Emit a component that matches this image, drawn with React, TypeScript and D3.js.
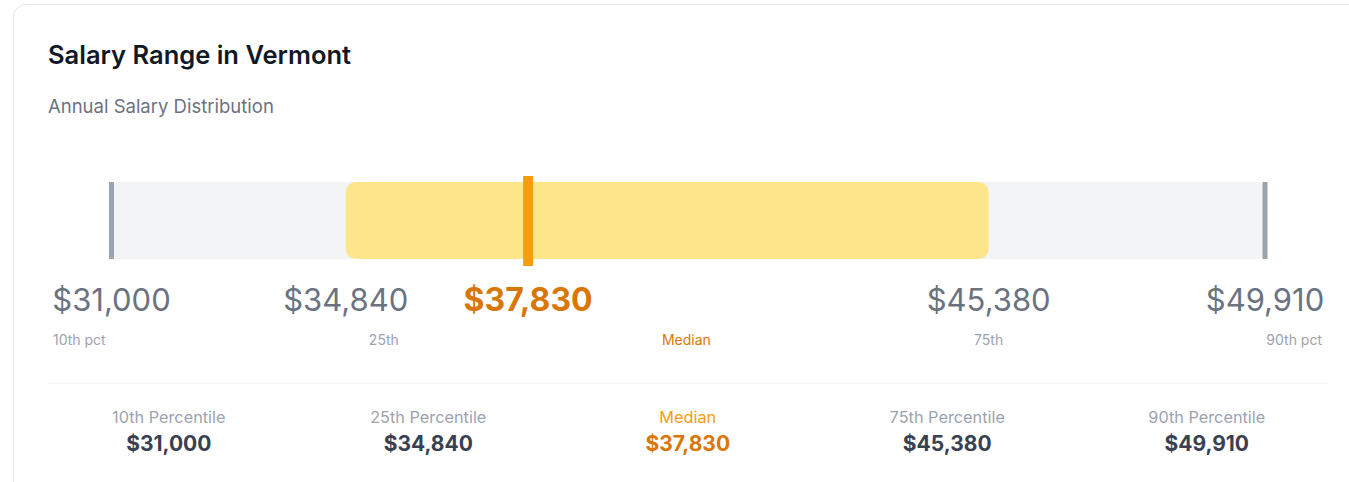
import React from "react";
import * as d3 from "d3";

const TITLE = "Salary Range in Vermont";
const SUBTITLE = "Annual Salary Distribution";
const percentileKeys = ["p10", "p25", "median", "p75", "p90"];
const percentileValues = [31000, 34840, 37830, 45380, 49910];
const barSubLabels = ["10th pct", "25th", "Median", "75th", "90th pct"];
const summaryLabels = ["10th Percentile", "25th Percentile", "Median", "75th Percentile", "90th Percentile"];

const W = 1349;
const H = 482;
const FONT = "Inter, 'Noto Sans', sans-serif";

function measure(text: string, font: string): number {
  const c = document.createElement("canvas").getContext("2d");
  if (!c) return text.length * 7;
  c.font = font;
  return c.measureText(text).width;
}

export default function App() {
  const fmt = (v: number) => "$" + d3.format(",")(v);
  const x = d3.scaleLinear().domain([percentileValues[0], percentileValues[4]]).range([111.5, 1265]);

  const trackTop = 182;
  const trackH = 77;
  const medianIdx = percentileKeys.indexOf("median");

  // sublabels: flex space-between between 53 and 1322
  const subFont = `400 14px ${FONT}`;
  const subLeft = 53;
  const subRight = 1322;
  const widths = barSubLabels.map((t) => measure(t, subFont));
  const totalW = d3.sum(widths);
  const gap = (subRight - subLeft - totalW) / (barSubLabels.length - 1);
  const subX: number[] = [];
  let acc = subLeft;
  widths.forEach((w) => {
    subX.push(acc);
    acc += w + gap;
  });

  const cols = d3.scaleBand<number>().domain(d3.range(5)).range([48, 1345.5]).paddingInner(0);

  return (
    <svg width={W} height={H} style={{ position: "absolute", left: 0, top: 0, display: "block" }} fontFamily={FONT}>
      <rect x={13.5} y={4.5} width={1400} height={600} rx={12} fill="#fff" stroke="#e5e7eb" />
      <text x={48} y={64} fontSize={25.5} fontWeight={600} fill="#111827">{TITLE}</text>
      <text x={48} y={113} fontSize={18.5} fill="#6b7280">{SUBTITLE}</text>

      {/* track */}
      <rect x={x(percentileValues[0])} y={trackTop} width={x(percentileValues[4]) - x(percentileValues[0])} height={trackH} rx={8} fill="#f3f4f6" />
      {/* IQR box */}
      <rect x={x(percentileValues[1])} y={trackTop} width={x(percentileValues[3]) - x(percentileValues[1])} height={trackH} rx={10} fill="#fde68a" />
      {/* min/max markers */}
      {[0, 4].map((i) => (
        <rect key={i} x={x(percentileValues[i]) - 2.5} y={trackTop} width={5} height={trackH} fill="#9ca3af" />
      ))}
      {/* median */}
      <rect x={x(percentileValues[medianIdx]) - 5} y={176} width={10} height={90} fill="#f59e0b" />

      {/* value labels */}
      {percentileValues.map((v, i) => (
        <text
          key={i}
          x={x(v)}
          y={311}
          textAnchor="middle"
          fontSize={i === medianIdx ? 32 : 31}
          fontWeight={i === medianIdx ? 700 : 400}
          fill={i === medianIdx ? "#d97706" : "#6b7280"}
        >
          {fmt(v)}
        </text>
      ))}
      {barSubLabels.map((t, i) => (
        <text key={i} x={subX[i]} y={345} fontSize={14} fill={i === medianIdx ? "#d97706" : "#9ca3af"}>
          {t}
        </text>
      ))}

      <line x1={48} x2={1328} y1={383.5} y2={383.5} stroke="#f3f4f6" />

      {summaryLabels.map((t, i) => {
        const cx = (cols(i) as number) + cols.bandwidth() / 2 - 9;
        const isMed = i === medianIdx;
        return (
          <g key={i}>
            <text x={cx} y={423} textAnchor="middle" fontSize={16.3} fill={isMed ? "#f59e0b" : "#9ca3af"}>{t}</text>
            <text x={cx} y={451} textAnchor="middle" fontSize={21} fontWeight={700} fill={isMed ? "#d97706" : "#374151"}>
              {fmt(percentileValues[i])}
            </text>
          </g>
        );
      })}
    </svg>
  );
}
